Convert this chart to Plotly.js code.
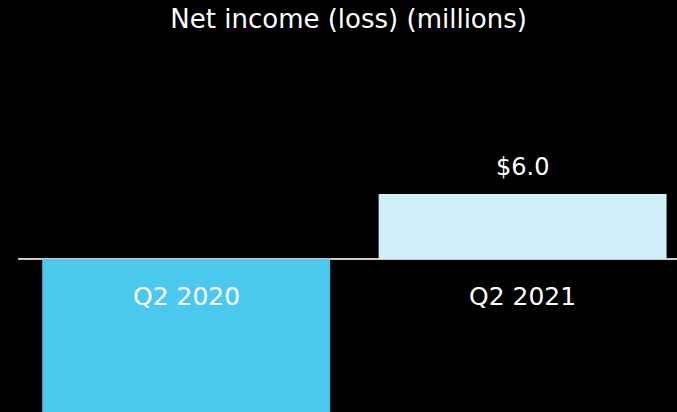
<!DOCTYPE html>
<html><head><meta charset="utf-8">
<script src="https://cdn.plot.ly/plotly-3.0.1.min.js"></script>
<style>html,body{margin:0;padding:0;background:#000;}#chart{width:677px;height:412px;}</style>
</head><body><div id="chart"></div>
<script>
const categories = ["Q2 2020", "Q2 2021"];
const values = [-17.0, 6.0];
const valueLabels = ["", "$6.0"];
const barColors = ["#4AC8EE", "#D0F0F9"];

const FONT = "DejaVu Sans, sans-serif";
const annotations = [];
categories.forEach((c, i) => {
  annotations.push({x: c, y: 0, xref: "x", yref: "y", text: c, showarrow: false,
    yanchor: "middle", yshift: -38, font: {family: FONT, size: 25, color: "#ffffff"}});
  if (valueLabels[i]) {
    annotations.push({x: c, y: values[i], xref: "x", yref: "y", text: valueLabels[i], showarrow: false,
      yanchor: "middle", yshift: 27, font: {family: FONT, size: 24, color: "#ffffff"}});
  }
});

Plotly.newPlot("chart", [{
  type: "bar", x: categories, y: values,
  marker: {color: barColors, line: {width: 0}},
  hoverinfo: "none"
}], {
  width: 677, height: 412,
  paper_bgcolor: "#000", plot_bgcolor: "#000",
  margin: {l: 18, r: 0, t: 60, b: 0},
  bargap: 0.144,
  title: {text: "Net income (loss) (millions)", x: 0.515, xanchor: "center", y: 0.953, yanchor: "middle",
    font: {family: FONT, size: 26, color: "#ffffff"}},
  xaxis: {range: [-0.5, 1.459], showticklabels: false, showgrid: false, zeroline: false, showline: false, fixedrange: true},
  yaxis: {range: [-14.13, 18.37], showticklabels: false, showgrid: false, zeroline: true,
    zerolinecolor: "#c8c8c8", zerolinewidth: 2, showline: false},
  annotations: annotations,
  showlegend: false
}, {displayModeBar: false, staticPlot: true});
</script></body></html>
